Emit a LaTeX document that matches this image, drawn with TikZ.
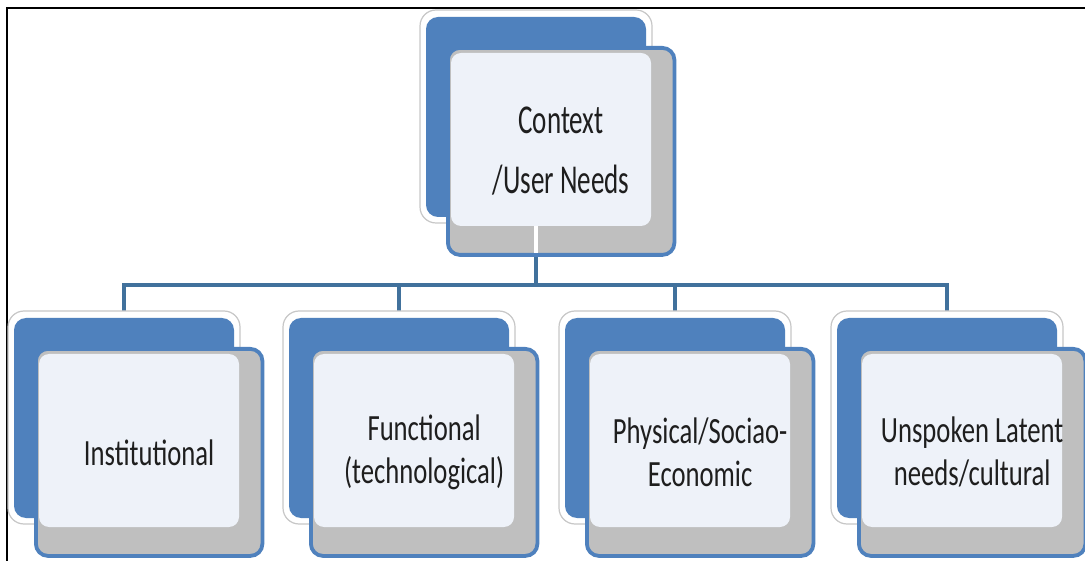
\documentclass[tikz,border=0pt]{standalone}
\usepackage{fontspec}
\usetikzlibrary{backgrounds}
\newfontfamily\topfont[FakeStretch=0.66]{Carlito}
\newfontfamily\kidfont[FakeStretch=0.72]{Carlito}
\definecolor{cblue}{HTML}{4F81BD}
\definecolor{cbar}{HTML}{41719C}
\definecolor{cgray}{HTML}{BFBFBF}
\definecolor{clight}{HTML}{EEF2F9}
\definecolor{ctext}{HTML}{1E1E1E}
\tikzset{
  halo/.style={draw=black!22, fill=white, line width=1.2pt, rounded corners=16pt},
  backbox/.style={rectangle, rounded corners=12pt, fill=cblue, minimum width=220pt,
    minimum height=200pt, inner sep=0pt, outer sep=0pt, anchor=north west},
  frontbox/.style={rectangle, rounded corners=12pt, fill=cgray, draw=cblue, line width=3.8pt,
    minimum width=226.5pt, minimum height=207pt, inner sep=0pt, outer sep=0pt, anchor=north west},
  innerbox/.style={rectangle, rounded corners=10pt, fill=clight, minimum width=200pt,
    minimum height=173pt, inner sep=0pt, outer sep=0pt, anchor=north west},
  kidtext/.style={align=center, text=ctext, inner sep=0pt, font=\kidfont\fontsize{37}{43}\selectfont},
  toptext/.style={align=center, text=ctext, inner sep=0pt, font=\topfont\fontsize{41}{60}\selectfont},
  conn/.style={draw=cbar, line width=4.5pt},
  gap/.style={draw=white, line width=3.5pt},
  frame/.style={draw=black, line width=1.8pt}
}
\newcommand\cardbox[5]{%
  \draw[halo] ({#2-6},{#3-7}) rectangle ({#2+226},{#3+206});
  \node[backbox] (#1b) at (#2,#3) {};
  \node[frontbox] (#1) at ({#2+21.9},{#3+30.9}) {};
  \node[innerbox] (#1i) at ({#2+25},{#3+36}) {};
  \node[#4] (#1t) at (#1.center) {#5};
}
\begin{document}
\begin{tikzpicture}[x=1pt,y=-1pt]
\useasboundingbox (0,0) rectangle (1085,561);
\draw[frame] (7,561) -- (7,8) -- (1085,8);

\cardbox{top}{426}{17}{toptext}{Context\\/User Needs}
\cardbox{k1}{14}{318}{kidtext}{Institutional}
\cardbox{k2}{289}{318}{kidtext}{Functional\\(technological)}
\cardbox{k3}{565}{318}{kidtext}{Physical/Sociao-\\Economic}
\cardbox{k4}{837}{318}{kidtext}{Unspoken Latent\\needs/cultural}

\coordinate (bar) at (0,285);
\begin{scope}[on background layer]
  \draw[conn] (topb.south) -- (topb.south |- bar);
  \draw[conn] (k1b.north) |- (topb.south |- bar) -| (k4b.north);
  \draw[conn] (k2b.north) -- (k2b.north |- bar);
  \draw[conn] (k3b.north) -- (k3b.north |- bar);
\end{scope}
\draw[gap] (topb.south |- topi.south) -- ([yshift=2pt]topb.south |- top.south);
\end{tikzpicture}
\end{document}
